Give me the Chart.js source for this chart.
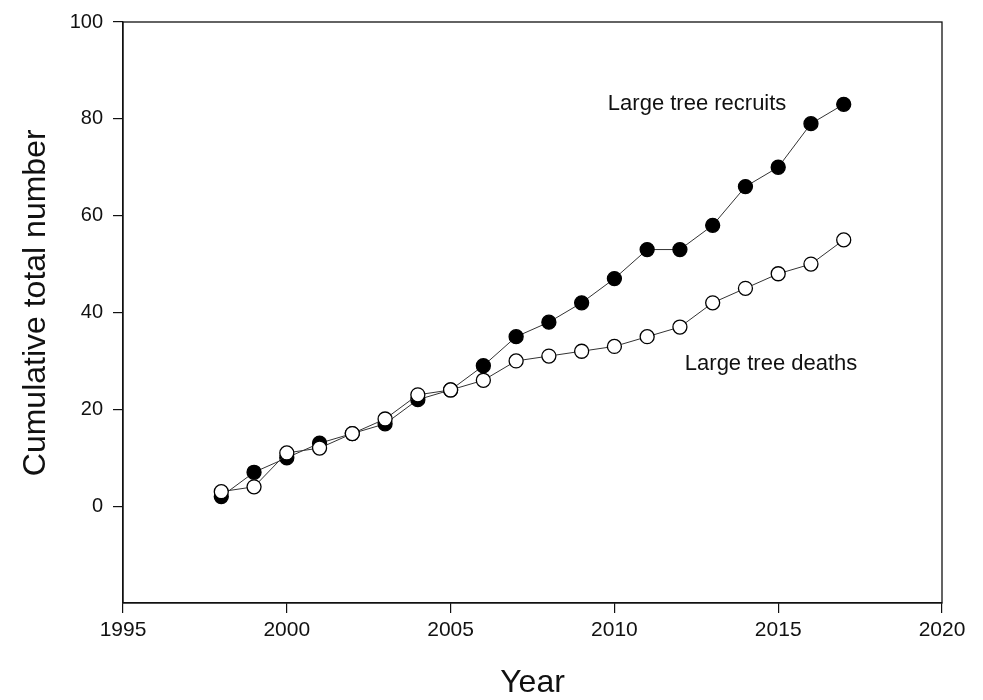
<!DOCTYPE html>
<html>
<head>
<meta charset="utf-8">
<script src="https://cdn.jsdelivr.net/npm/chart.js@4.4.1/dist/chart.umd.min.js"></script>
<style>
html,body{margin:0;padding:0;background:#fff;}
#wrap{width:983px;height:700px;position:relative;}
</style>
</head>
<body>
<div id="wrap"><canvas id="c" width="983" height="700"></canvas></div>
<script>
const years = [1998,1999,2000,2001,2002,2003,2004,2005,2006,2007,2008,2009,2010,2011,2012,2013,2014,2015,2016,2017];
const recruits = [2,7,10,13,15,17,22,24,29,35,38,42,47,53,53,58,66,70,79,83];
const deaths = [3,4,11,12,15,18,23,24,26,30,31,32,33,35,37,42,45,48,50,55];
const xTicks = [1995,2000,2005,2010,2015,2020];
const yTicks = [0,20,40,60,80,100];
const yTitle = "Cumulative total number";
const xTitle = "Year";
const labelRecruits = {text:"Large tree recruits", x:2009.8, y:83};
const labelDeaths = {text:"Large tree deaths", x:2012.15, y:29.4};
const yTitleCenter = 42;

const FONT = "'Liberation Sans', Arial, sans-serif";

const frame = {
  id:'frame',
  afterDatasetsDraw(chart){
    const {ctx, chartArea:a, scales} = chart;
    ctx.save();
    ctx.strokeStyle = '#111';
    ctx.lineWidth = 1.3;
    ctx.strokeRect(a.left, a.top, a.right - a.left, a.bottom - a.top);
    ctx.fillStyle = '#111';
    ctx.font = "22px " + FONT;
    ctx.textBaseline = 'middle';
    ctx.textAlign = 'left';
    [labelRecruits, labelDeaths].forEach(l => {
      ctx.fillText(l.text, scales.x.getPixelForValue(l.x), scales.y.getPixelForValue(l.y));
    });
    ctx.save();
    ctx.translate(36, scales.y.getPixelForValue(yTitleCenter));
    ctx.rotate(-Math.PI/2);
    ctx.textAlign = 'center';
    ctx.font = "32px " + FONT;
    ctx.fillText(yTitle, 0, 0);
    ctx.restore();
    ctx.restore();
  }
};

const toXY = (vals) => years.map((y,i) => ({x:y, y:vals[i]}));

new Chart(document.getElementById('c'), {
  type:'line',
  data:{
    datasets:[
      {
        label:'Large tree deaths',
        data: toXY(deaths),
        borderColor:'#333',
        borderWidth:1,
        pointRadius:7,
        pointBackgroundColor:'#fff',
        pointBorderColor:'#000',
        pointBorderWidth:1.3,
        tension:0,
        order:0
      },
      {
        label:'Large tree recruits',
        data: toXY(recruits),
        borderColor:'#333',
        borderWidth:1,
        pointRadius:7,
        pointBackgroundColor:'#000',
        pointBorderColor:'#000',
        pointBorderWidth:1.3,
        tension:0,
        order:1
      }
    ]
  },
  options:{
    responsive:false,
    animation:false,
    events:[],
    layout:{padding:{top:19,right:41,left:0,bottom:0}},
    plugins:{legend:{display:false},tooltip:{enabled:false}},
    scales:{
      x:{
        type:'linear',
        min:1995,max:2020,
        afterBuildTicks(s){ s.ticks = xTicks.map(v=>({value:v})); },
        afterFit(s){ s.height = 97; },
        grid:{display:true,drawOnChartArea:false,tickLength:10,color:'#111',lineWidth:1.2},
        border:{display:true,color:'#111',width:1.3},
        ticks:{color:'#111',padding:5,font:{family:FONT,size:21},maxRotation:0,autoSkip:false,
          callback:(v)=> String(v)},
        title:{display:true,text:xTitle,color:'#111',font:{family:FONT,size:32,lineHeight:1},padding:{top:0,bottom:1}}
      },
      y:{
        min:-20,max:100,
        afterBuildTicks(s){ s.ticks = [-20].concat(yTicks).map(v=>({value:v})); },
        afterFit(s){ s.width = 123; },
        grid:{display:true,drawOnChartArea:false,tickLength:10,
          color:(ctx)=> (ctx.tick && ctx.tick.value === -20) ? 'rgba(0,0,0,0)' : '#111',lineWidth:1.2},
        border:{display:true,color:'#111',width:1.3},
        ticks:{color:'#111',padding:10,font:{family:FONT,size:20},
          callback:(v)=> v === -20 ? '' : String(v)}
      }
    }
  },
  plugins:[frame]
});
</script>
</body>
</html>
